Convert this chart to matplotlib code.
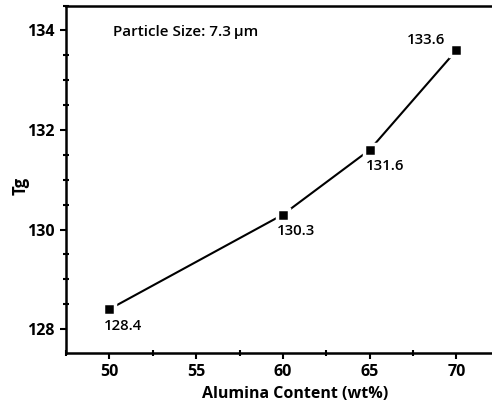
import matplotlib
matplotlib.use("Agg")
import matplotlib.pyplot as plt
from matplotlib.ticker import MultipleLocator

x_vals = [50, 60, 65, 70]
tg_vals = [128.4, 130.3, 131.6, 133.6]
point_labels = ["128.4", "130.3", "131.6", "133.6"]
x_ticks = [50, 55, 60, 65, 70]
y_ticks = [128, 130, 132, 134]

plt.rcParams['font.family'] = ['Open Sans', 'DejaVu Sans']

fig = plt.figure(figsize=(4.92, 4.07), dpi=100)
W, H = 492, 407
left, right, top, bottom = 66, 492, 5.5, 353
ax = fig.add_axes([left / W, 1 - bottom / H, (right - left) / W, (bottom - top) / H])

ax.plot(x_vals, tg_vals, color='black', lw=1.5, marker='s', markersize=8,
        markerfacecolor='black', markeredgecolor='white', markeredgewidth=2.5, zorder=3)

offsets = [(-6, -10, 'left', 'top'), (-6, -9, 'left', 'top'), (-4, -9, 'left', 'top'), (-11, 3, 'right', 'bottom')]
for xv, yv, lab, (dx, dy, ha, va) in zip(x_vals, tg_vals, point_labels, offsets):
    ax.annotate(lab, (xv, yv), xytext=(dx * 0.72, dy * 0.72), textcoords='offset points',
                ha=ha, va=va, fontsize=10.8, fontweight='semibold')

ax.text(0.11, 0.925, "Particle Size: 7.3\u2009\u00b5m", transform=ax.transAxes,
        fontsize=11, fontweight='semibold', ha='left', va='center')

ax.set_xlim(47.5, 72.05)
ax.set_ylim(127.52, 134.5)
ax.set_xticks(x_ticks)
ax.set_yticks(y_ticks)
ax.xaxis.set_minor_locator(MultipleLocator(2.5))
ax.yaxis.set_minor_locator(MultipleLocator(0.5))
ax.tick_params(which='major', direction='out', length=4.5, width=1.5, labelsize=11.5)
ax.tick_params(which='minor', direction='inout', length=4, width=1.5)
for lab in ax.get_xticklabels() + ax.get_yticklabels():
    lab.set_fontweight('bold')

for s in ['left', 'bottom', 'top']:
    ax.spines[s].set_linewidth(1.8)
ax.spines['right'].set_visible(False)

ax.set_xlabel("Alumina Content (wt%)", fontsize=11.5, fontweight='bold')
ax.xaxis.set_label_coords(0.5376, -0.095)
ax.set_ylabel("Tg", fontsize=12, fontweight='bold')
ax.yaxis.set_label_coords(-0.086, 0.48)

fig.savefig("out.png", dpi=100)
